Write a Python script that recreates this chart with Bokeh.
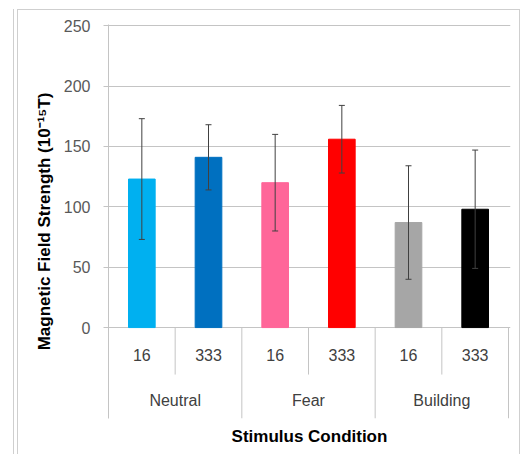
from bokeh.plotting import figure
from bokeh.models import Range1d, FixedTicker, ColumnDataSource, Whisker, TeeHead
from bokeh.core.properties import value
from bokeh.embed import file_html
from bokeh.resources import INLINE

# ---- data ----
conditions = ["Neutral", "Fear", "Building"]
durations = ["16", "333"]
means = [123, 141, 120, 156, 87, 98]
errors = [50, 27, 40, 28, 47, 49]
colors = ["#00B0F0", "#0070C0", "#FF6699", "#FF0000", "#A6A6A6", "#000000"]
y_ticks = [0, 50, 100, 150, 200, 250]

FONT = "Liberation Sans"
GRAY = "#C4C4C4"
BORDER = "#CFCFCF"

n = len(means)
xs = [i + 0.5 for i in range(n)]
sub_labels = [durations[i % len(durations)] for i in range(n)]
group_x = [len(durations) * g + len(durations) / 2 for g in range(len(conditions))]

src = ColumnDataSource(dict(
    x=xs, top=means, color=colors,
    upper=[m + e for m, e in zip(means, errors)],
    lower=[m - e for m, e in zip(means, errors)],
))

# layout constants (data units below zero used for the category label band)
Y_BOTTOM = -75.3
SUB_LABEL_Y = -23
GROUP_LABEL_Y = -60
SHORT_SEP = -38.9

p = figure(width=503, height=445, output_backend="svg", toolbar_location=None,
           x_range=Range1d(0, n + 0.03), y_range=Range1d(Y_BOTTOM, 251),
           min_border_left=90, min_border_right=11, min_border_top=14, min_border_bottom=37,
           outline_line_color=None)
p.styles = {"margin-top": "9px", "margin-left": "17px",
            "border-left": f"1px solid {BORDER}", "border-top": f"1px solid {BORDER}",
            "border-right": f"1px solid {BORDER}",
            "box-shadow": f"-3px 0 0 0 #FFFFFF, -4px 0 0 0 {BORDER}"}

p.vbar(x="x", top="top", width=0.4, bottom=0, color="color", source=src)
w = Whisker(base="x", upper="upper", lower="lower", source=src, level="overlay",
            line_color="#404040", line_width=1,
            upper_head=TeeHead(size=6, line_color="#404040", line_width=1),
            lower_head=TeeHead(size=6, line_color="#404040", line_width=1))
p.add_layout(w)

# category separators
sep_x = [float(i) for i in range(1, n + 1)]
sep_y1 = [SHORT_SEP if i % len(durations) else Y_BOTTOM for i in range(1, n + 1)]
p.segment(x0=sep_x, y0=[0] * n, x1=sep_x, y1=sep_y1, line_color=GRAY, line_width=1)

p.text(x=xs, y=[SUB_LABEL_Y] * n, text=sub_labels, text_align="center",
       text_baseline="middle", text_font=value(FONT), text_font_size="16px",
       text_color="#404040")
p.text(x=group_x, y=[GROUP_LABEL_Y] * len(conditions), text=conditions,
       text_align="center", text_baseline="middle", text_font=value(FONT),
       text_font_size="16px", text_color="#404040")

# y axis
p.yaxis.ticker = FixedTicker(ticks=y_ticks)
p.yaxis.minor_tick_line_color = None
p.yaxis.major_tick_in = 0
p.yaxis.major_tick_out = 5
p.yaxis.major_tick_line_color = GRAY
p.yaxis.axis_line_color = GRAY
p.yaxis.major_label_standoff = 13
p.yaxis.major_label_text_font = FONT
p.yaxis.major_label_text_font_size = "16px"
p.yaxis.major_label_text_color = "#595959"
p.yaxis.axis_label = "Magnetic Field Strength (10\u207b\u00b9\u2075T)"
p.yaxis.axis_label_text_font = FONT
p.yaxis.axis_label_text_font_size = "17px"
p.yaxis.axis_label_text_font_style = "bold"
p.yaxis.axis_label_text_color = "#000000"
p.yaxis.axis_label_standoff = 7

# x axis: only the title
p.xaxis.ticker = FixedTicker(ticks=[])
p.xaxis.axis_line_color = None
p.xaxis.major_tick_line_color = None
p.xaxis.minor_tick_line_color = None
p.xaxis.major_tick_out = 0
p.xaxis.major_label_standoff = 0
p.xaxis.axis_label = "Stimulus Condition"
p.xaxis.axis_label_text_font = FONT
p.xaxis.axis_label_text_font_size = "17px"
p.xaxis.axis_label_text_font_style = "bold"
p.xaxis.axis_label_text_color = "#000000"
p.xaxis.axis_label_standoff = 8

p.xgrid.grid_line_color = None
p.ygrid.ticker = FixedTicker(ticks=y_ticks)
p.ygrid.grid_line_color = GRAY

open("out.html", "w").write(file_html(p, INLINE))
